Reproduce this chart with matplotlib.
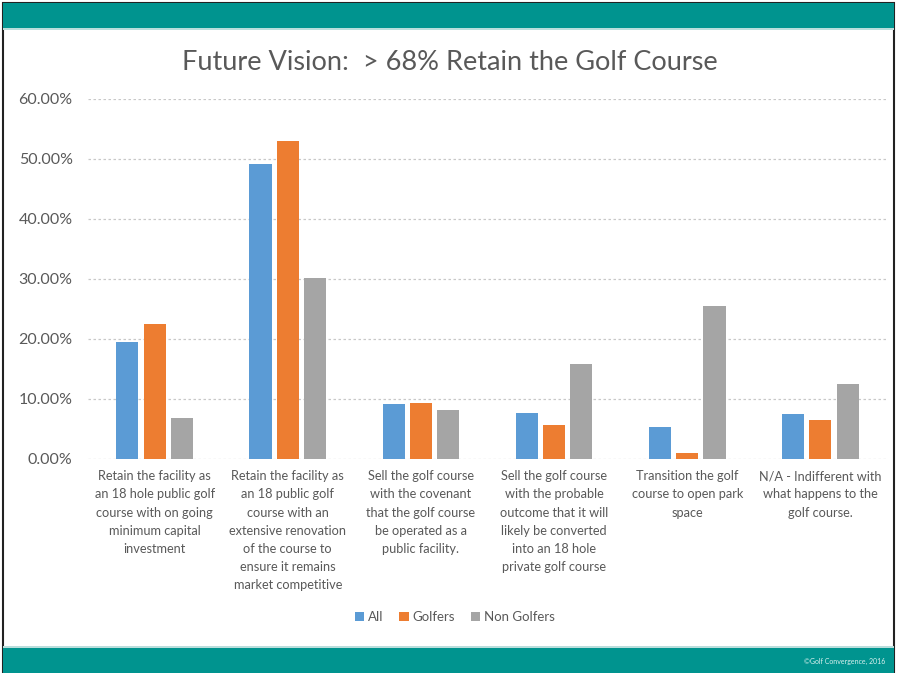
import numpy as np
import matplotlib.pyplot as plt
from matplotlib.patches import Rectangle
from matplotlib.ticker import FuncFormatter

categories = [
    "Retain the facility as\nan 18 hole public golf\ncourse with on going\nminimum capital\ninvestment",
    "Retain the facility as\nan 18 public golf\ncourse with an\nextensive renovation\nof the course to\nensure it remains\nmarket competitive",
    "Sell the golf course\nwith the covenant\nthat the golf course\nbe operated as a\npublic facility.",
    "Sell the golf course\nwith the probable\noutcome that it will\nlikely be converted\ninto an 18 hole\nprivate golf course",
    "Transition the golf\ncourse to open park\nspace",
    "N/A - Indifferent with\nwhat happens to the\ngolf course.",
]
series_names = ["All", "Golfers", "Non Golfers"]
all_vals = [19.5, 49.2, 9.1, 7.6, 5.4, 7.5]
golfers = [22.5, 53.0, 9.4, 5.7, 1.0, 6.5]
non_golfers = [6.9, 30.2, 8.2, 15.9, 25.5, 12.5]
colors = ["#5B9BD5", "#ED7D31", "#A5A5A5"]

teal = "#00948F"
txt = "#595959"

fig = plt.figure(figsize=(8.99, 6.73), dpi=100)
fig.patch.set_facecolor("white")

# slide frame and teal bands
H = 673.0
W = 899.0
fig.patches.append(Rectangle((3 / W, 0), 891 / W, (H - 3) / H, transform=fig.transFigure,
                             fill=False, edgecolor="#222222", lw=1.5))
fig.patches.append(Rectangle((3 / W, 1 - 28 / H), 891 / W, 25 / H, transform=fig.transFigure,
                             facecolor=teal, edgecolor="none"))
fig.patches.append(Rectangle((3 / W, 1 - 30 / H), 891 / W, 2 / H, transform=fig.transFigure,
                             facecolor="#B9DEDC", edgecolor="none"))
fig.patches.append(Rectangle((3 / W, 0), 891 / W, 25 / H, transform=fig.transFigure,
                             facecolor=teal, edgecolor="none"))
fig.patches.append(Rectangle((3 / W, 25 / H), 891 / W, 2 / H, transform=fig.transFigure,
                             facecolor="#B9DEDC", edgecolor="none"))

ax = fig.add_axes([88 / W, 1 - 459 / H, 799 / W, 360 / H])
x = np.arange(len(categories))
w = 0.166
step = 0.205
for i, (vals, name) in enumerate(zip([all_vals, golfers, non_golfers], series_names)):
    ax.bar(x + (i - 1) * step, vals, width=w, color=colors[i], label=name, zorder=3)

ax.set_xlim(-0.5, len(categories) - 0.5)
ax.set_ylim(0, 60)
ax.set_yticks(np.arange(0, 61, 10))
ax.yaxis.set_major_formatter(FuncFormatter(lambda v, p: "%.2f%%" % v))
ax.grid(axis="y", color="#C8C8C8", linestyle=(0, (2, 2)), lw=0.9, zorder=0)
for s in ax.spines.values():
    s.set_visible(False)
ax.tick_params(axis="y", length=0, pad=11, labelsize=11.5, labelcolor=txt)
ax.tick_params(axis="x", length=0, pad=8, labelsize=9.2, labelcolor=txt)
ax.set_xticks(x)
ax.set_xticklabels(categories, linespacing=1.62, fontfamily="Lato")
for lab in ax.get_yticklabels():
    lab.set_fontfamily("Lato")

fig.text(0.5, 1 - 62 / H, "Future Vision:  > 68% Retain the Golf Course", ha="center",
         va="center", fontsize=19.5, color=txt, fontfamily="Lato")

leg = fig.legend(loc="center", bbox_to_anchor=(455 / W, 1 - 617 / H), ncol=3, frameon=False,
                 handlelength=0.7, handleheight=0.7, handletextpad=0.3,
                 columnspacing=1.2, prop={"family": "Lato", "size": 9.5})
for t in leg.get_texts():
    t.set_color(txt)

fig.text(885 / W, 12 / H, "\u00a9Golf Convergence, 2016", ha="right", va="center",
         fontsize=5, color="#D8F0EE", fontfamily="Lato")

fig.savefig("out.png", dpi=100)
